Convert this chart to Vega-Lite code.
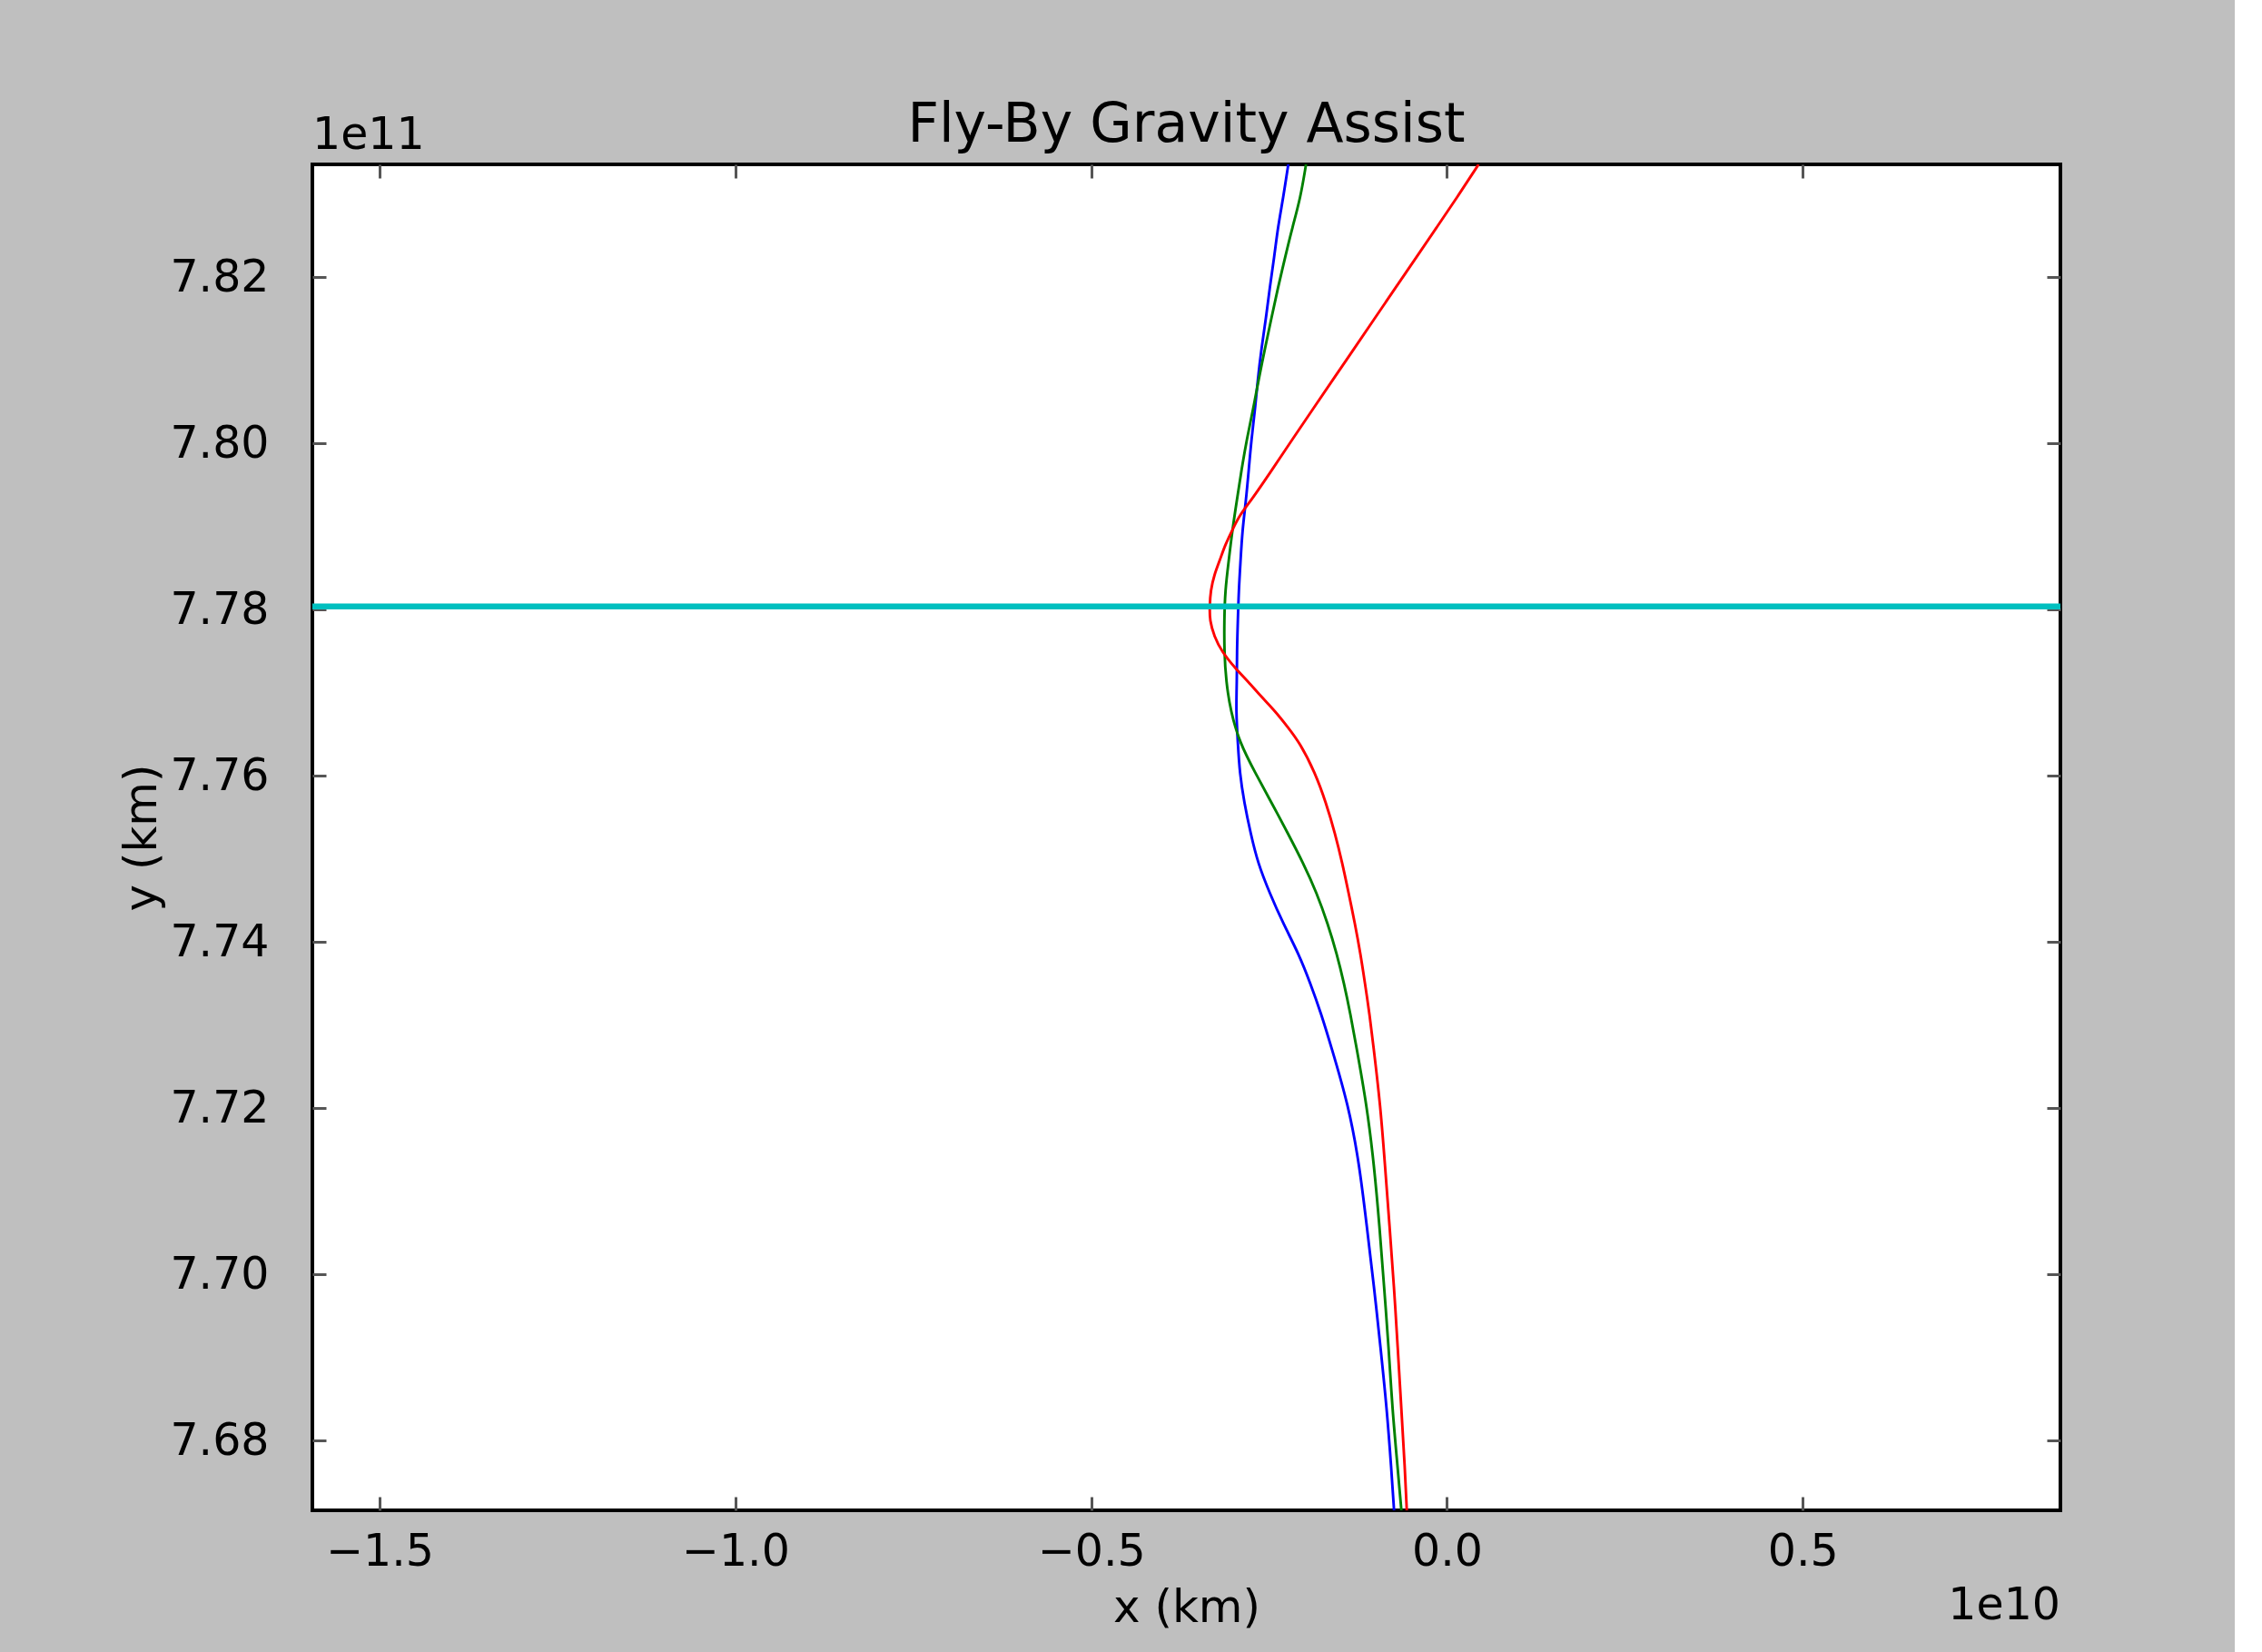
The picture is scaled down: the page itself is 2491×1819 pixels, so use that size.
{
  "$schema": "https://vega.github.io/schema/vega-lite/v6.json",
  "width": 1925,
  "height": 1482,
  "autosize": {"type": "none"},
  "padding": {"left": 344, "top": 181, "right": 192, "bottom": 156},
  "background": "#BFBFBF",
  "title": {"text": "Fly-By Gravity Assist", "font": "DejaVu Sans", "fontSize": 60, "fontWeight": "normal", "color": "black", "anchor": "middle", "frame": "group", "baseline": "alphabetic", "offset": -91},
  "config": {
    "view": {"fill": "white", "stroke": "black", "strokeWidth": 4},
    "axis": {"labelFont": "DejaVu Sans", "labelFontSize": 49, "labelColor": "black", "titleFont": "DejaVu Sans", "titleFontSize": 50, "titleFontWeight": "normal", "titleColor": "black", "grid": false, "domain": false, "tickColor": "#555555", "tickWidth": 3, "tickSize": -15}
  },
  "datasets": {
    "traj": [
      {"series": "blue", "x": -0.2230, "y": 7.8336},
      {"series": "blue", "x": -0.2301, "y": 7.8296},
      {"series": "blue", "x": -0.2377, "y": 7.8260},
      {"series": "blue", "x": -0.2428, "y": 7.8224},
      {"series": "blue", "x": -0.2492, "y": 7.8187},
      {"series": "blue", "x": -0.2543, "y": 7.8151},
      {"series": "blue", "x": -0.2607, "y": 7.8115},
      {"series": "blue", "x": -0.2658, "y": 7.8078},
      {"series": "blue", "x": -0.2696, "y": 7.8042},
      {"series": "blue", "x": -0.2747, "y": 7.8006},
      {"series": "blue", "x": -0.2786, "y": 7.7968},
      {"series": "blue", "x": -0.2824, "y": 7.7932},
      {"series": "blue", "x": -0.2875, "y": 7.7896},
      {"series": "blue", "x": -0.2901, "y": 7.7859},
      {"series": "blue", "x": -0.2926, "y": 7.7823},
      {"series": "blue", "x": -0.2939, "y": 7.7787},
      {"series": "blue", "x": -0.2952, "y": 7.7750},
      {"series": "blue", "x": -0.2952, "y": 7.7714},
      {"series": "blue", "x": -0.2965, "y": 7.7678},
      {"series": "blue", "x": -0.2939, "y": 7.7640},
      {"series": "blue", "x": -0.2914, "y": 7.7604},
      {"series": "blue", "x": -0.2850, "y": 7.7568},
      {"series": "blue", "x": -0.2760, "y": 7.7531},
      {"series": "blue", "x": -0.2658, "y": 7.7495},
      {"series": "blue", "x": -0.2492, "y": 7.7459},
      {"series": "blue", "x": -0.2301, "y": 7.7422},
      {"series": "blue", "x": -0.2084, "y": 7.7386},
      {"series": "blue", "x": -0.1918, "y": 7.7350},
      {"series": "blue", "x": -0.1765, "y": 7.7313},
      {"series": "blue", "x": -0.1637, "y": 7.7277},
      {"series": "blue", "x": -0.1382, "y": 7.7203},
      {"series": "blue", "x": -0.1229, "y": 7.7131},
      {"series": "blue", "x": -0.1127, "y": 7.7058},
      {"series": "blue", "x": -0.1025, "y": 7.6985},
      {"series": "blue", "x": -0.0935, "y": 7.6913},
      {"series": "blue", "x": -0.0846, "y": 7.6839},
      {"series": "blue", "x": -0.0782, "y": 7.6766},
      {"series": "blue", "x": -0.0744, "y": 7.6716},
      {"series": "green", "x": -0.1981, "y": 7.8336},
      {"series": "green", "x": -0.2058, "y": 7.8296},
      {"series": "green", "x": -0.2173, "y": 7.8260},
      {"series": "green", "x": -0.2275, "y": 7.8224},
      {"series": "green", "x": -0.2377, "y": 7.8187},
      {"series": "green", "x": -0.2467, "y": 7.8151},
      {"series": "green", "x": -0.2556, "y": 7.8115},
      {"series": "green", "x": -0.2645, "y": 7.8078},
      {"series": "green", "x": -0.2722, "y": 7.8042},
      {"series": "green", "x": -0.2812, "y": 7.8006},
      {"series": "green", "x": -0.2888, "y": 7.7968},
      {"series": "green", "x": -0.2952, "y": 7.7932},
      {"series": "green", "x": -0.3016, "y": 7.7896},
      {"series": "green", "x": -0.3067, "y": 7.7859},
      {"series": "green", "x": -0.3118, "y": 7.7823},
      {"series": "green", "x": -0.3130, "y": 7.7787},
      {"series": "green", "x": -0.3130, "y": 7.7750},
      {"series": "green", "x": -0.3105, "y": 7.7714},
      {"series": "green", "x": -0.3041, "y": 7.7678},
      {"series": "green", "x": -0.2914, "y": 7.7640},
      {"series": "green", "x": -0.2697, "y": 7.7604},
      {"series": "green", "x": -0.2467, "y": 7.7568},
      {"series": "green", "x": -0.2237, "y": 7.7531},
      {"series": "green", "x": -0.2020, "y": 7.7495},
      {"series": "green", "x": -0.1829, "y": 7.7459},
      {"series": "green", "x": -0.1675, "y": 7.7422},
      {"series": "green", "x": -0.1548, "y": 7.7386},
      {"series": "green", "x": -0.1446, "y": 7.7350},
      {"series": "green", "x": -0.1356, "y": 7.7313},
      {"series": "green", "x": -0.1280, "y": 7.7277},
      {"series": "green", "x": -0.1126, "y": 7.7203},
      {"series": "green", "x": -0.1024, "y": 7.7131},
      {"series": "green", "x": -0.0948, "y": 7.7058},
      {"series": "green", "x": -0.0884, "y": 7.6985},
      {"series": "green", "x": -0.0820, "y": 7.6913},
      {"series": "green", "x": -0.0769, "y": 7.6839},
      {"series": "green", "x": -0.0692, "y": 7.6766},
      {"series": "green", "x": -0.0641, "y": 7.6716},
      {"series": "red", "x": 0.0444, "y": 7.8336},
      {"series": "red", "x": 0.0140, "y": 7.8296},
      {"series": "red", "x": -0.0146, "y": 7.8260},
      {"series": "red", "x": -0.0432, "y": 7.8224},
      {"series": "red", "x": -0.0727, "y": 7.8187},
      {"series": "red", "x": -0.1013, "y": 7.8151},
      {"series": "red", "x": -0.1299, "y": 7.8115},
      {"series": "red", "x": -0.1594, "y": 7.8078},
      {"series": "red", "x": -0.1880, "y": 7.8042},
      {"series": "red", "x": -0.2166, "y": 7.8006},
      {"series": "red", "x": -0.2461, "y": 7.7968},
      {"series": "red", "x": -0.2748, "y": 7.7932},
      {"series": "red", "x": -0.2913, "y": 7.7914},
      {"series": "red", "x": -0.3016, "y": 7.7896},
      {"series": "red", "x": -0.3118, "y": 7.7878},
      {"series": "red", "x": -0.3194, "y": 7.7859},
      {"series": "red", "x": -0.3271, "y": 7.7842},
      {"series": "red", "x": -0.3322, "y": 7.7823},
      {"series": "red", "x": -0.3335, "y": 7.7804},
      {"series": "red", "x": -0.3335, "y": 7.7787},
      {"series": "red", "x": -0.3271, "y": 7.7768},
      {"series": "red", "x": -0.3169, "y": 7.7750},
      {"series": "red", "x": -0.2960, "y": 7.7728},
      {"series": "red", "x": -0.2800, "y": 7.7714},
      {"series": "red", "x": -0.2607, "y": 7.7695},
      {"series": "red", "x": -0.2416, "y": 7.7678},
      {"series": "red", "x": -0.2240, "y": 7.7659},
      {"series": "red", "x": -0.2070, "y": 7.7640},
      {"series": "red", "x": -0.1854, "y": 7.7604},
      {"series": "red", "x": -0.1701, "y": 7.7568},
      {"series": "red", "x": -0.1573, "y": 7.7531},
      {"series": "red", "x": -0.1471, "y": 7.7495},
      {"series": "red", "x": -0.1382, "y": 7.7459},
      {"series": "red", "x": -0.1293, "y": 7.7422},
      {"series": "red", "x": -0.1216, "y": 7.7386},
      {"series": "red", "x": -0.1152, "y": 7.7350},
      {"series": "red", "x": -0.1088, "y": 7.7313},
      {"series": "red", "x": -0.1037, "y": 7.7277},
      {"series": "red", "x": -0.0935, "y": 7.7203},
      {"series": "red", "x": -0.0871, "y": 7.7131},
      {"series": "red", "x": -0.0807, "y": 7.7058},
      {"series": "red", "x": -0.0744, "y": 7.6985},
      {"series": "red", "x": -0.0693, "y": 7.6913},
      {"series": "red", "x": -0.0642, "y": 7.6839},
      {"series": "red", "x": -0.0591, "y": 7.6766},
      {"series": "red", "x": -0.0565, "y": 7.6716}
    ],
    "orbit": [
      {"x": -1.5944, "y": 7.7804},
      {"x": 0.862, "y": 7.7804}
    ]
  },
  "layer": [
    {
      "data": {"name": "traj"},
      "mark": {"type": "line", "strokeWidth": 2.9, "clip": true, "interpolate": "basis"},
      "encoding": {
        "x": {"field": "x", "type": "quantitative", "scale": {"domain": [-1.5944, 0.862], "nice": false, "zero": false},
              "axis": {"orient": "bottom", "values": [-1.5, -1.0, -0.5, 0.0, 0.5], "format": ".1f", "title": "x (km)", "labelPadding": 36, "titlePadding": 12}},
        "y": {"field": "y", "type": "quantitative", "scale": {"domain": [7.6716, 7.8336], "nice": false, "zero": false},
              "axis": {"orient": "left", "values": [7.68, 7.70, 7.72, 7.74, 7.76, 7.78, 7.80, 7.82], "format": ".2f", "title": "y (km)", "labelPadding": 63, "titlePadding": 5}},
        "color": {"field": "series", "type": "nominal", "scale": {"domain": ["blue", "green", "red"], "range": ["#0000FF", "#008000", "#FF0000"]}, "legend": null},
        "order": {"field": "y", "type": "quantitative"}
      }
    },
    {
      "data": {"name": "orbit"},
      "mark": {"type": "line", "color": "#00BFBF", "strokeWidth": 6.5, "clip": true},
      "encoding": {
        "x": {"field": "x", "type": "quantitative", "scale": {"domain": [-1.5944, 0.862], "nice": false, "zero": false},
              "axis": {"orient": "top", "values": [-1.5, -1.0, -0.5, 0.0, 0.5], "labels": false, "title": null}},
        "y": {"field": "y", "type": "quantitative", "scale": {"domain": [7.6716, 7.8336], "nice": false, "zero": false},
              "axis": {"orient": "right", "values": [7.68, 7.70, 7.72, 7.74, 7.76, 7.78, 7.80, 7.82], "labels": false, "title": null}}
      }
    },
    {
      "data": {"values": [{"label": "1e11"}]},
      "mark": {"type": "text", "font": "DejaVu Sans", "fontSize": 49, "color": "black", "align": "left", "baseline": "alphabetic", "dy": -17},
      "encoding": {
        "x": {"datum": -1.5944, "type": "quantitative", "axis": null},
        "y": {"datum": 7.8336, "type": "quantitative", "axis": null},
        "text": {"field": "label"}
      }
    },
    {
      "data": {"values": [{"label": "1e10"}]},
      "mark": {"type": "text", "font": "DejaVu Sans", "fontSize": 49, "color": "black", "align": "right", "baseline": "alphabetic", "dy": 120},
      "encoding": {
        "x": {"datum": 0.862, "type": "quantitative", "axis": null},
        "y": {"datum": 7.6716, "type": "quantitative", "axis": null},
        "text": {"field": "label"}
      }
    }
  ],
  "resolve": {"axis": {"x": "independent", "y": "independent"}}
}
